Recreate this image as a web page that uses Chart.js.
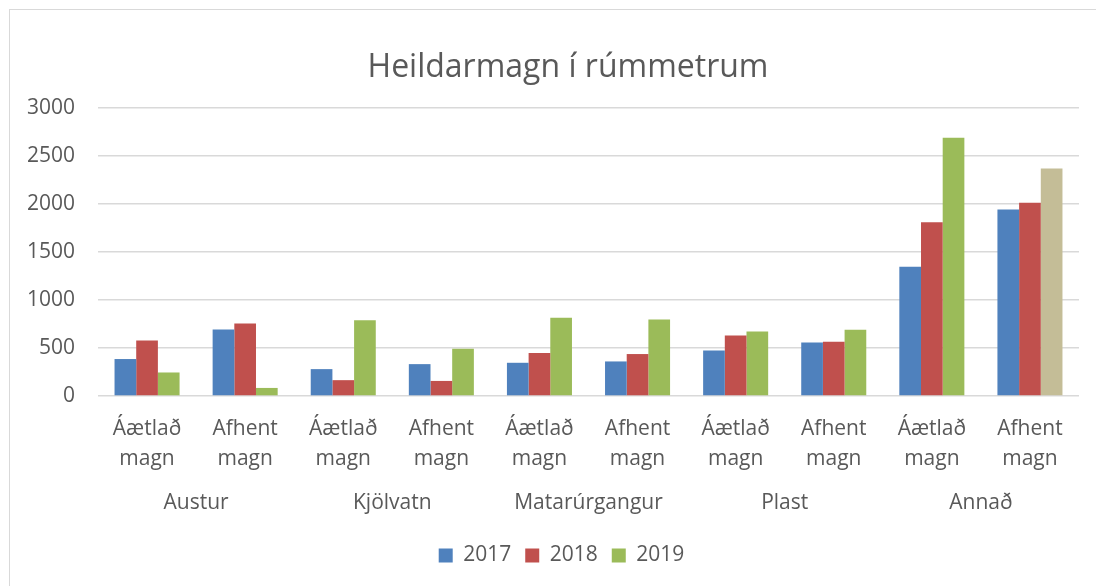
<!DOCTYPE html>
<html>
<head>
<meta charset="utf-8">
<script src="https://cdn.jsdelivr.net/npm/chart.js@4/dist/chart.umd.min.js"></script>
<style>
  html, body { margin: 0; padding: 0; background: #fff; }
  #wrap { position: relative; width: 1096px; height: 586px; overflow: hidden; }
  #frame { position: absolute; left: 9px; top: 9px; width: 1200px; height: 700px; border: 1px solid #d9d9d9; }
  #c { position: absolute; left: 0; top: 0; }
</style>
</head>
<body>
<div id="wrap">
  <div id="frame"></div>
  <canvas id="c" width="1096" height="586"></canvas>
</div>
<script>
// categories (two levels)
const groups = ["Austur", "Kjölvatn", "Matarúrgangur", "Plast", "Annað"];
const kinds = [["Áætlað", "magn"], ["Afhent", "magn"]];
const labels = groups.flatMap(() => kinds);

// values (m³)
const years = ["2017", "2018", "2019"];
const v2017 = [385, 692, 280, 332, 346, 360, 475, 556, 1346, 1944];
const v2018 = [577, 755, 165, 157, 448, 437, 629, 566, 1811, 2014];
const v2019 = [245, 84, 790, 493, 815, 797, 671, 689, 2689, 2371];
const yTicks = [0, 500, 1000, 1500, 2000, 2500, 3000];

const titleText = "Heildarmagn í rúmmetrum";
const colors = ["#4f81bd", "#c0504d", "#9bbb59"];
const lastBarColor = "#c4bd97"; // Annað / Afhent 2019 is drawn in tan
const textColor = "#595959";
const gridColor = "#d9d9d9";
const font = "'Open Sans', 'Liberation Sans', sans-serif";

const greenCols = v2019.map((_, i) => (i === v2019.length - 1 ? lastBarColor : colors[2]));

const datasets = [v2017, v2018, v2019].map((data, i) => ({
  label: years[i],
  data,
  backgroundColor: i === 2 ? greenCols : colors[i],
  borderWidth: 0,
  categoryPercentage: 0.663,
  barPercentage: 1,
}));

// title and legend sit a bit right of centre in the original
const nudgePlugin = {
  id: "nudge",
  afterLayout(chart) {
    if (chart.legend) {
      chart.legend.left += 22;
      chart.legend.right += 22;
    }
  },
  afterDraw(chart) {
    const ctx = chart.ctx;
    ctx.save();
    ctx.font = `32px ${font}`;
    ctx.fillStyle = textColor;
    ctx.textAlign = "center";
    ctx.textBaseline = "alphabetic";
    ctx.fillText(titleText, 568, 77);
    ctx.restore();
  },
};

new Chart(document.getElementById("c"), {
  type: "bar",
  data: { labels, datasets },
  plugins: [nudgePlugin],
  options: {
    responsive: false,
    animation: false,
    layout: { padding: { left: 0, right: 17, top: 108, bottom: 10 } },
    plugins: {
      title: { display: false },
      legend: {
        position: "bottom",
        labels: {
          color: textColor,
          font: { family: font, size: 21 },
          boxWidth: 14,
          boxHeight: 14,
          padding: 14,
          generateLabels: (chart) => chart.data.datasets.map((ds, i) => ({
            text: ds.label,
            fillStyle: colors[i],
            strokeStyle: colors[i],
            lineWidth: 0,
            datasetIndex: i,
            fontColor: textColor,
          })),
        },
      },
      tooltip: { enabled: false },
    },
    scales: {
      x: {
        grid: { display: false, drawTicks: false },
        border: { display: false },
        ticks: {
          color: textColor,
          font: { family: font, size: 21, lineHeight: 1.44 },
          padding: 18,
          maxRotation: 0,
          autoSkip: false,
        },
        afterFit: (s) => { s.height = 78; },
      },
      x2: {
        type: "category",
        position: "bottom",
        labels: groups,
        offset: true,
        weight: 1,
        grid: { display: false, drawTicks: false },
        border: { display: false },
        ticks: {
          color: textColor,
          font: { family: font, size: 21 },
          padding: 16,
          maxRotation: 0,
          autoSkip: false,
        },
        afterFit: (s) => { s.height = 57; },
      },
      y: {
        min: 0,
        max: 3000,
        afterBuildTicks: (s) => { s.ticks = yTicks.map((v) => ({ value: v })); },
        grid: { color: gridColor, lineWidth: 1.4, drawTicks: false },
        border: { display: false },
        ticks: {
          color: textColor,
          font: { family: font, size: 21 },
          padding: 23,
          callback: (v) => String(v),
        },
        afterFit: (s) => { s.width = 98; },
      },
    },
  },
});
</script>
</body>
</html>
